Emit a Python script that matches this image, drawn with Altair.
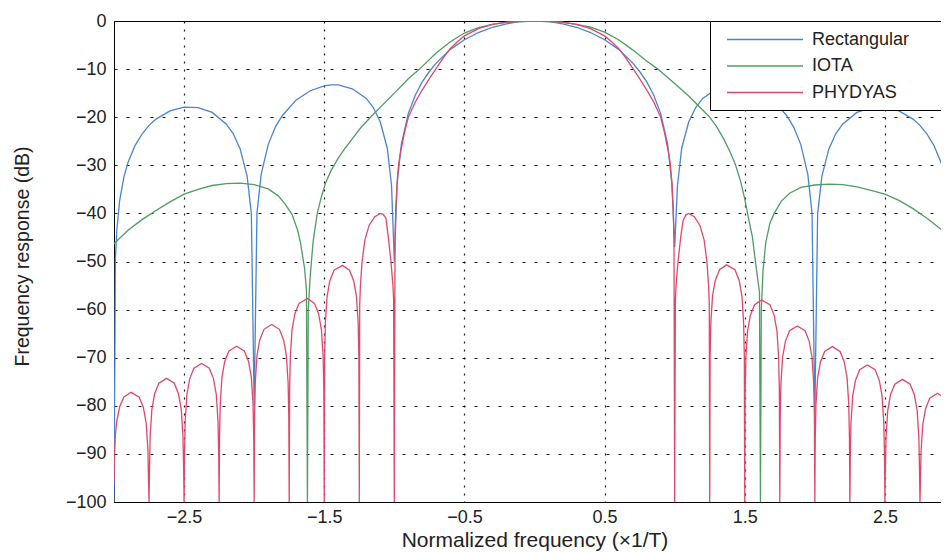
import altair as alt
import pandas as pd

series_names = ["Rectangular", "IOTA", "PHYDYAS"]
series_colors = ["#4a84cb", "#519b64", "#e0486b"]

x_ticks = [-2.5, -1.5, -0.5, 0.5, 1.5, 2.5]
y_ticks = [-100, -90, -80, -70, -60, -50, -40, -30, -20, -10, 0]

# Rectangular
rect_f = [-3.00, -2.99, -2.98, -2.96, -2.93, -2.90, -2.85, -2.80, -2.75, -2.70, -2.60, -2.50,
          -2.40, -2.30, -2.20, -2.15, -2.10, -2.05, -2.02, -2.00, -1.98, -1.95, -1.90, -1.85,
          -1.80, -1.70, -1.60, -1.50, -1.45, -1.40, -1.30, -1.20, -1.15, -1.10, -1.05, -1.02,
          -1.00, -0.98, -0.95, -0.90, -0.85, -0.80, -0.75, -0.70, -0.60, -0.50, -0.40, -0.30,
          -0.20, -0.10, 0.00,
          0.10, 0.20, 0.30, 0.40, 0.50, 0.60, 0.70, 0.75, 0.80, 0.85, 0.90, 0.95, 0.98, 1.00,
          1.02, 1.05, 1.10, 1.15, 1.20, 1.30, 1.40, 1.45, 1.50, 1.60, 1.70, 1.80, 1.85, 1.90,
          1.95, 1.98, 2.00, 2.02, 2.05, 2.10, 2.15, 2.20, 2.30, 2.40, 2.50, 2.60, 2.70, 2.75,
          2.80, 2.85, 2.90, 2.93, 2.96, 2.98, 2.99, 3.00]
rect_db = [-100, -49.5, -43.5, -37.4, -32.5, -29.4, -25.9, -23.5, -21.7, -20.4, -18.7, -17.9,
           -18.0, -19.0, -21.4, -23.4, -26.6, -32.3, -40.1, -80, -39.9, -31.9, -25.7, -22.1,
           -19.7, -16.4, -14.5, -13.5, -13.3, -13.3, -14.1, -16.1, -18.0, -21.0, -26.5, -34.2,
           -50, -33.8, -25.6, -19.2, -15.4, -12.6, -10.5, -8.7, -5.9, -3.9, -2.4, -1.3,
           -0.6, -0.1, 0.0,
           -0.1, -0.6, -1.3, -2.4, -3.9, -5.9, -8.7, -10.5, -12.6, -15.4, -19.2, -25.6, -33.8, -47,
           -34.2, -26.5, -21.0, -18.0, -16.1, -14.1, -13.3, -13.3, -13.5, -14.5, -16.4, -19.7, -22.1, -25.7,
           -31.9, -39.9, -82, -40.1, -32.3, -26.6, -23.4, -21.4, -19.0, -18.0, -17.9, -18.7, -20.4, -21.7,
           -23.5, -25.9, -29.4, -32.5, -37.4, -43.5, -49.5, -100]

# IOTA
iota_f = [-3.00, -2.90, -2.80, -2.70, -2.60, -2.50, -2.40, -2.30, -2.20, -2.10, -2.00, -1.90,
          -1.83, -1.78, -1.73, -1.69, -1.67, -1.64, -1.627, -1.62, -1.614, -1.60, -1.58, -1.55,
          -1.52, -1.49, -1.45, -1.40, -1.35, -1.30, -1.24, -1.17, -1.00, -0.90, -0.82, -0.70,
          -0.60, -0.50, -0.40, -0.30, -0.20, -0.10, 0.00,
          0.10, 0.20, 0.30, 0.40, 0.50, 0.60, 0.70, 0.80, 0.88, 1.00, 1.10, 1.20, 1.25, 1.30,
          1.35, 1.40, 1.435, 1.47, 1.50, 1.52, 1.555, 1.576, 1.605, 1.612, 1.618, 1.63, 1.65,
          1.68, 1.71, 1.76, 1.82, 1.90, 2.00, 2.10, 2.20, 2.30, 2.40, 2.50, 2.60, 2.70, 2.80,
          2.90, 2.96, 3.00]
iota_db = [-46.3, -43.5, -41.3, -39.4, -37.6, -36.0, -35.0, -34.2, -33.8, -33.7, -34.0, -34.9,
           -36.3, -38.0, -40.2, -43.5, -46.0, -51.5, -56.0, -100, -60, -53, -46, -40,
           -36.5, -33.6, -31.0, -28.5, -26.4, -24.5, -22.2, -20, -15, -12, -10, -6.6,
           -4.3, -2.5, -1.4, -0.7, -0.3, -0.1, 0.0,
           -0.1, -0.3, -0.7, -1.3, -2.3, -3.9, -6.0, -8.3, -10, -13.0, -15.6, -18.5, -20, -22,
           -24.5, -27.5, -30, -33.3, -37, -40, -45, -50, -56.4, -100, -60, -52, -46,
           -42, -40, -37.5, -35.8, -34.6, -34.1, -33.9, -34.0, -34.5, -35.2, -36.0, -37.3, -39.0, -41.0,
           -43.3, -45.0, -46.5]

# PHYDYAS
phy_f = [-3.000, -2.996, -2.990, -2.980, -2.960, -2.930, -2.880, -2.820, -2.790, -2.770, -2.758, -2.753, -2.750,
         -2.747, -2.742, -2.730, -2.710, -2.680, -2.625, -2.570, -2.540, -2.520, -2.508, -2.503, -2.500,
         -2.497, -2.492, -2.480, -2.460, -2.430, -2.375, -2.320, -2.290, -2.270, -2.258, -2.253, -2.250,
         -2.247, -2.242, -2.230, -2.210, -2.180, -2.125, -2.070, -2.040, -2.020, -2.008, -2.003, -2.000,
         -1.997, -1.992, -1.980, -1.960, -1.930, -1.875, -1.820, -1.790, -1.770, -1.758, -1.753, -1.750,
         -1.747, -1.742, -1.730, -1.710, -1.680, -1.620, -1.570, -1.540, -1.520, -1.508, -1.503, -1.500,
         -1.497, -1.492, -1.480, -1.460, -1.430, -1.370, -1.320, -1.290, -1.270, -1.258, -1.253, -1.250,
         -1.247, -1.242, -1.230, -1.210, -1.180, -1.140, -1.100, -1.080, -1.060, -1.043, -1.024, -1.010, -1.005, -1.000,
         -0.995, -0.990, -0.980, -0.970, -0.960, -0.930, -0.900, -0.850, -0.800, -0.750, -0.700, -0.650,
         -0.600, -0.550, -0.500, -0.400, -0.300, -0.200, -0.100, 0.000,
         0.100, 0.200, 0.300, 0.400, 0.500, 0.550, 0.600, 0.650, 0.700, 0.750, 0.800, 0.850,
         0.900, 0.930, 0.960, 0.970, 0.980, 0.990, 0.995, 1.000,
         1.005, 1.010, 1.024, 1.043, 1.060, 1.080, 1.100, 1.140, 1.180, 1.210, 1.230, 1.242, 1.247, 1.250,
         1.253, 1.258, 1.270, 1.290, 1.320, 1.370, 1.430, 1.460, 1.480, 1.492, 1.497, 1.500,
         1.503, 1.508, 1.520, 1.540, 1.570, 1.620, 1.680, 1.710, 1.730, 1.742, 1.747, 1.750,
         1.753, 1.758, 1.770, 1.790, 1.820, 1.875, 1.930, 1.960, 1.980, 1.992, 1.997, 2.000,
         2.003, 2.008, 2.020, 2.040, 2.070, 2.125, 2.180, 2.210, 2.230, 2.242, 2.247, 2.250,
         2.253, 2.258, 2.270, 2.290, 2.320, 2.375, 2.430, 2.460, 2.480, 2.492, 2.497, 2.500,
         2.503, 2.508, 2.520, 2.540, 2.570, 2.625, 2.680, 2.710, 2.730, 2.742, 2.747, 2.750,
         2.753, 2.758, 2.770, 2.790, 2.820, 2.875, 2.930, 2.960, 2.980, 2.992, 2.997, 3.000]
phy_db = [-96, -90, -86, -83.2, -80.2, -78.2, -77.2, -78.2, -80.4, -83.7, -89.2, -96.2, -100,
          -93.3, -86.3, -80.8, -77.5, -75.3, -74.3, -75.3, -77.5, -80.8, -86.3, -93.3, -100,
          -90.2, -83.2, -77.7, -74.4, -72.2, -71.2, -72.2, -74.4, -77.7, -83.2, -90.2, -100,
          -86.6, -79.6, -74.1, -70.8, -68.6, -67.6, -68.6, -70.8, -74.1, -79.6, -86.6, -100,
          -82.1, -75.1, -69.6, -66.3, -64.1, -63.1, -64.1, -66.3, -69.6, -75.1, -82.1, -100,
          -76.7, -69.7, -64.2, -60.9, -58.7, -57.7, -58.7, -60.9, -64.2, -69.7, -76.7, -100,
          -69.8, -62.8, -57.3, -54.0, -51.8, -50.8, -51.8, -54.0, -57.3, -62.8, -69.8, -100,
          -59, -55, -50, -45.5, -42.5, -40.7, -40.0, -40.2, -41.0, -45.0, -50, -55, -58, -100,
          -45, -39, -33.5, -30, -28.0, -23.5, -20, -16.8, -14.3, -12.0, -9.8, -7.6,
          -5.7, -4.3, -3.1, -1.6, -0.7, -0.25, -0.05, 0.0,
          -0.05, -0.25, -0.7, -1.6, -3.1, -4.3, -5.7, -7.6, -9.8, -12.0, -14.3, -16.8,
          -20, -23.5, -28.0, -30, -33.5, -39, -45, -100,
          -58, -55, -50, -45, -41.5, -40.3, -40.0, -40.7, -42.5, -45.5, -50, -55, -59, -100,
          -69.7, -62.7, -57.2, -53.9, -51.7, -50.7, -51.7, -53.9, -57.2, -62.7, -69.7, -100,
          -77.0, -70.0, -64.5, -61.2, -59.0, -58.0, -59.0, -61.2, -64.5, -70.0, -77.0, -100,
          -82.4, -75.4, -69.9, -66.6, -64.4, -63.4, -64.4, -66.6, -69.9, -75.4, -82.4, -100,
          -86.7, -79.7, -74.2, -70.9, -68.7, -67.7, -68.7, -70.9, -74.2, -79.7, -86.7, -100,
          -90.5, -83.5, -78.0, -74.7, -72.5, -71.5, -72.5, -74.7, -78.0, -83.5, -90.5, -100,
          -93.5, -86.5, -81.0, -77.7, -75.5, -74.5, -75.5, -77.7, -81.0, -86.5, -93.5, -100,
          -96.4, -89.4, -83.9, -80.6, -78.4, -77.4, -78.4, -80.6, -83.9, -89.4, -96.4, -100]

frames = []
for name, fs, ds in zip(series_names, [rect_f, iota_f, phy_f], [rect_db, iota_db, phy_db]):
    frames.append(pd.DataFrame({"f": fs, "db": ds, "series": name}))
df = pd.concat(frames, ignore_index=True)

FONT = "Liberation Sans"

chart = alt.Chart(df).mark_line(strokeWidth=1.3, clip=True).encode(
    x=alt.X("f:Q",
            scale=alt.Scale(domain=[-3, 3], nice=False, zero=False),
            axis=alt.Axis(values=x_ticks, format=".1f", title="Normalized frequency (×1/T)",
                          gridDash=[2, 6], labelPadding=6, titlePadding=3,
                          labelFontSize=18, titleFontSize=21)),
    y=alt.Y("db:Q",
            scale=alt.Scale(domain=[-100, 0], nice=False),
            axis=alt.Axis(values=y_ticks, title="Frequency response (dB)",
                          gridDash=[3, 9], labelPadding=8, titlePadding=33,
                          labelFontSize=18, titleFontSize=19.5, titleY=235)),
    color=alt.Color("series:N",
                    scale=alt.Scale(domain=series_names, range=series_colors),
                    sort=series_names,
                    legend=alt.Legend(orient="none", legendX=596, legendY=0, title=None,
                                      symbolType="M-1,0H7M23,0H23", symbolSize=361,
                                      symbolStrokeWidth=1.5, symbolOffset=8,
                                      labelOffset=65, labelFontSize=18, labelColor="#222",
                                      labelFont=FONT, padding=8, rowPadding=6.5,
                                      fillColor="white", strokeColor="black")),
).properties(
    width=841, height=481,
    padding={"left": 106, "top": 13, "right": -14, "bottom": 50},
    autosize="none",
).configure(font=FONT).configure_view(
    stroke="black", strokeWidth=1
).configure_axis(
    labelFont=FONT, titleFont=FONT, labelColor="#222", titleColor="#222",
    titleFontWeight="normal", domainColor="black", domainWidth=1,
    gridColor="black", gridOpacity=0.9, gridWidth=1.2, ticks=False,
)

chart.save("out.html", embed_options={"renderer": "svg", "actions": False})
